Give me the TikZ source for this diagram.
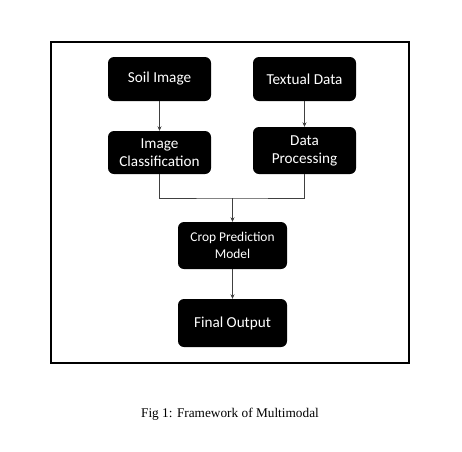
\documentclass[tikz,border=0pt]{standalone}
\usepackage{fontspec}
\setmainfont{Carlito}
\newfontfamily\capfont{Liberation Serif}
\usetikzlibrary{arrows.meta, positioning}

\begin{document}
\begin{tikzpicture}[x=1pt, y=-1pt,
        blockbox/.style={rectangle, rounded corners=6pt, fill=black, text=white,
            align=center, font=\fontsize{15.2}{18}\selectfont, inner sep=2pt},
        flowline/.style={draw=black!75, line width=0.7pt},
        flowarrow/.style={flowline, -{Stealth[length=4.5pt, width=4pt]}}]
                        \useasboundingbox (0, 0) rectangle (462, 451);
                        \draw[line width=1.6pt] (51, 42) rectangle (409, 363);

                        \node[blockbox, minimum width=103pt, minimum height=44pt] (soil) at (159.5, 79) {Soil Image};
                        \node[blockbox, minimum width=103pt, minimum height=44pt] (text) at (304.5, 79) {Textual Data};
                        \node[blockbox, minimum width=103pt, minimum height=43pt] (imgcls) at (159.5, 152.5) {Image\\Classification};
                        \node[blockbox, minimum width=103pt, minimum height=47pt] (dataproc) at (304.5, 150.5) {Data\\Processing};
                        \node[blockbox, minimum width=109pt, minimum height=47pt, font=\fontsize{13.4}{16.5}\selectfont] (crop) at (232.5, 245.5) {Crop Prediction\\Model};
                        \node[blockbox, minimum width=109pt, minimum height=48pt] (final) at (232.5, 323) {Final Output};
                        \coordinate (join) at (232.5, 198);

                        \draw[flowarrow] (soil) -- (imgcls);
                        \draw[flowarrow] (text) -- (dataproc);
                        \draw[flowline] (imgcls.south) |- (join) -| (dataproc.south);
                        \draw[flowarrow] (join) -- (crop);
                        \draw[flowarrow] (crop) -- (final);

                        \node[font=\capfont\fontsize{13.3}{15}\selectfont] (caption) at (230, 414) {Fig 1: Framework of Multimodal};
                    \end{tikzpicture}
\end{document}
